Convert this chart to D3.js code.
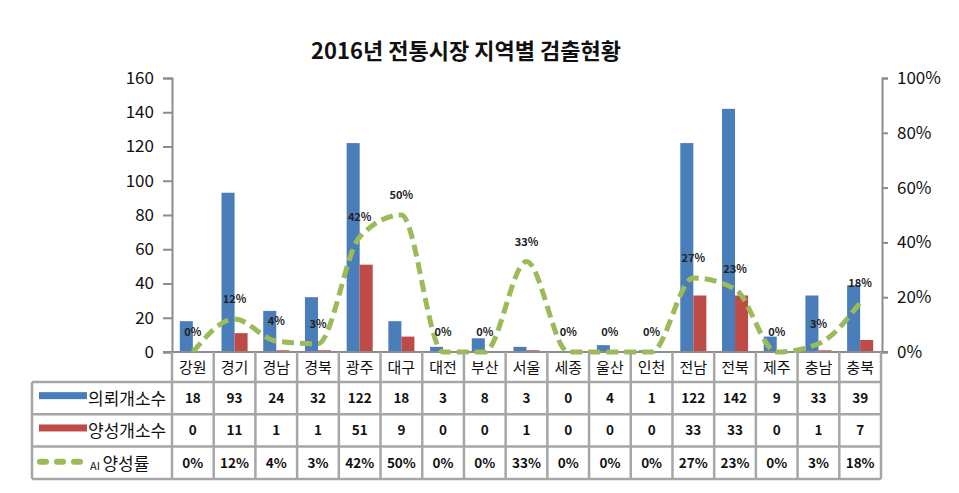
<!DOCTYPE html>
<html><head><meta charset="utf-8">
<script src="https://cdn.jsdelivr.net/npm/d3@7"></script>
<style>
html,body{margin:0;padding:0;background:#fff;}
text{font-family:"Noto Sans CJK KR","Noto Sans",sans-serif;}
</style></head>
<body>
<svg id="chart" width="959" height="493"></svg>
<script>
const title = "2016년 전통시장 지역별 검출현황";
const categories = ["강원","경기","경남","경북","광주","대구","대전","부산","서울","세종","울산","인천","전남","전북","제주","충남","충북"];
const requested = [18,93,24,32,122,18,3,8,3,0,4,1,122,142,9,33,39];
const positive = [0,11,1,1,51,9,0,0,1,0,0,0,33,33,0,1,7];
const rate = [0,12,4,3,42,50,0,0,33,0,0,0,27,23,0,3,18];
const leftTicks = [0,20,40,60,80,100,120,140,160];
const rightTicks = [0,20,40,60,80,100];
const seriesNames = ["의뢰개소수","양성개소수","AI 양성률"];
const colors = {blue:"#4A7EBB", red:"#BE4B48", green:"#9BBB59", border:"#A6A6A6", axis:"#8C8C8C"};

const svg = d3.select("#chart");
const L = 172, R = 881, T = 78, B = 352;
const tableLeft = 32, headerBottom = 382, rowH = 32.3;

const x = d3.scaleBand().domain(categories).range([L, R]).paddingInner(0).paddingOuter(0);
const xs = d3.scaleBand().domain(["req","pos"]).range([0, x.bandwidth()]).paddingInner(0).paddingOuter(0.6);
const y = d3.scaleLinear().domain([0,160]).range([B, T]);
const y2 = d3.scaleLinear().domain([0,100]).range([B, T]);

// title
svg.append("text").attr("x", 466).attr("y", 59).attr("text-anchor","middle")
  .attr("font-size", 22).attr("font-weight","bold").attr("fill","#111").text(title);

// bars
const g = svg.append("g");
g.selectAll("rect.req").data(categories).enter().append("rect")
  .attr("x", d => x(d) + xs("req")).attr("width", xs.bandwidth())
  .attr("y", (d,i) => y(requested[i])).attr("height", (d,i) => B - y(requested[i]))
  .attr("fill", colors.blue);
g.selectAll("rect.pos").data(categories).enter().append("rect")
  .attr("x", d => x(d) + xs("pos")).attr("width", xs.bandwidth())
  .attr("y", (d,i) => y(positive[i])).attr("height", (d,i) => B - y(positive[i]))
  .attr("fill", colors.red);

// axes
const leftAxis = d3.axisLeft(y).tickValues(leftTicks).tickSize(9).tickPadding(9);
const ga = svg.append("g").attr("transform", `translate(${L},0)`).call(leftAxis);
ga.select(".domain").attr("stroke", colors.axis).attr("stroke-width", 2);
ga.selectAll(".tick line").attr("stroke", colors.axis).attr("stroke-width", 2);
ga.selectAll(".tick text").attr("font-size", 17).attr("fill","#111")
  .attr("font-family",'"Noto Sans CJK KR",sans-serif');

const rightAxis = d3.axisRight(y2).tickValues(rightTicks).tickFormat(d => d + "%").tickSize(6).tickPadding(9);
const gr = svg.append("g").attr("transform", `translate(${R+1},0)`).call(rightAxis);
gr.select(".domain").attr("stroke", colors.axis).attr("stroke-width", 2);
gr.selectAll(".tick line").attr("stroke", colors.axis).attr("stroke-width", 2);
gr.selectAll(".tick text").attr("font-size", 17).attr("fill","#111")
  .attr("font-family",'"Noto Sans CJK KR",sans-serif');

// x axis baseline
svg.append("line").attr("x1", L-9).attr("x2", R+7).attr("y1", B).attr("y2", B)
  .attr("stroke", colors.axis).attr("stroke-width", 2);

// smoothed dashed line
const line = d3.line()
  .x((d,i) => x(categories[i]) + x.bandwidth()/2)
  .y(d => y2(d))
  .curve(d3.curveMonotoneX);
svg.append("path").datum(rate).attr("d", line)
  .attr("fill","none").attr("stroke", colors.green).attr("stroke-width", 5)
  .attr("stroke-dasharray","12,6");

// data labels
svg.selectAll("text.dl").data(rate).enter().append("text")
  .attr("x", (d,i) => x(categories[i]) + x.bandwidth()/2)
  .attr("y", d => y2(d) - 16)
  .attr("text-anchor","middle").attr("font-size", 11).attr("font-weight","bold")
  .attr("fill","#222").text(d => d + "%");

// table
const tb = svg.append("g");
const tableBottom = headerBottom + rowH*3;
tb.selectAll("text.cat").data(categories).enter().append("text")
  .attr("x", d => x(d) + x.bandwidth()/2).attr("y", 373)
  .attr("text-anchor","middle").attr("font-size", 15).attr("fill","#111").text(d => d);
const vlines = categories.map(d => x(d)).concat([R]);
tb.selectAll("line.v").data(vlines).enter().append("line")
  .attr("x1", d => d).attr("x2", d => d).attr("y1", B).attr("y2", tableBottom)
  .attr("stroke", colors.border).attr("stroke-width", 2.5);
tb.append("line").attr("x1", tableLeft).attr("x2", tableLeft).attr("y1", headerBottom).attr("y2", tableBottom)
  .attr("stroke", colors.border).attr("stroke-width", 2.5);
[0,1,2,3].forEach(k => {
  tb.append("line").attr("x1", tableLeft).attr("x2", R).attr("y1", headerBottom + k*rowH).attr("y2", headerBottom + k*rowH)
    .attr("stroke", colors.border).attr("stroke-width", 2.5);
});
const rows = [requested, positive, rate.map(v => v + "%")];
rows.forEach((vals, r) => {
  tb.selectAll(`text.r${r}`).data(vals).enter().append("text")
    .attr("x", (d,i) => x(categories[i]) + x.bandwidth()/2)
    .attr("y", headerBottom + r*rowH + rowH/2 + 5)
    .attr("text-anchor","middle").attr("font-size", 13.5).attr("font-weight","bold")
    .attr("fill","#111").text(d => d);
});
const ly = r => headerBottom + r*rowH + rowH/2;
tb.append("rect").attr("x", 39).attr("y", ly(0)-6).attr("width", 48).attr("height", 7).attr("fill", colors.blue);
tb.append("rect").attr("x", 39).attr("y", ly(1)-6).attr("width", 48).attr("height", 7).attr("fill", colors.red);
tb.append("line").attr("x1", 40).attr("x2", 80).attr("y1", ly(2)-1).attr("y2", ly(2)-1)
  .attr("stroke", colors.green).attr("stroke-width", 6).attr("stroke-dasharray","6,11").attr("stroke-linecap","round");
tb.append("text").attr("x", 88).attr("y", ly(0)+7).attr("font-size", 17).attr("fill","#111").text(seriesNames[0]);
tb.append("text").attr("x", 88).attr("y", ly(1)+7).attr("font-size", 17).attr("fill","#111").text(seriesNames[1]);
const t3 = tb.append("text").attr("x", 90).attr("y", ly(2)+7).attr("fill","#111");
t3.append("tspan").attr("font-size", 11).text("AI ");
t3.append("tspan").attr("font-size", 17).text(seriesNames[2].replace("AI ",""));
</script>
</body></html>
